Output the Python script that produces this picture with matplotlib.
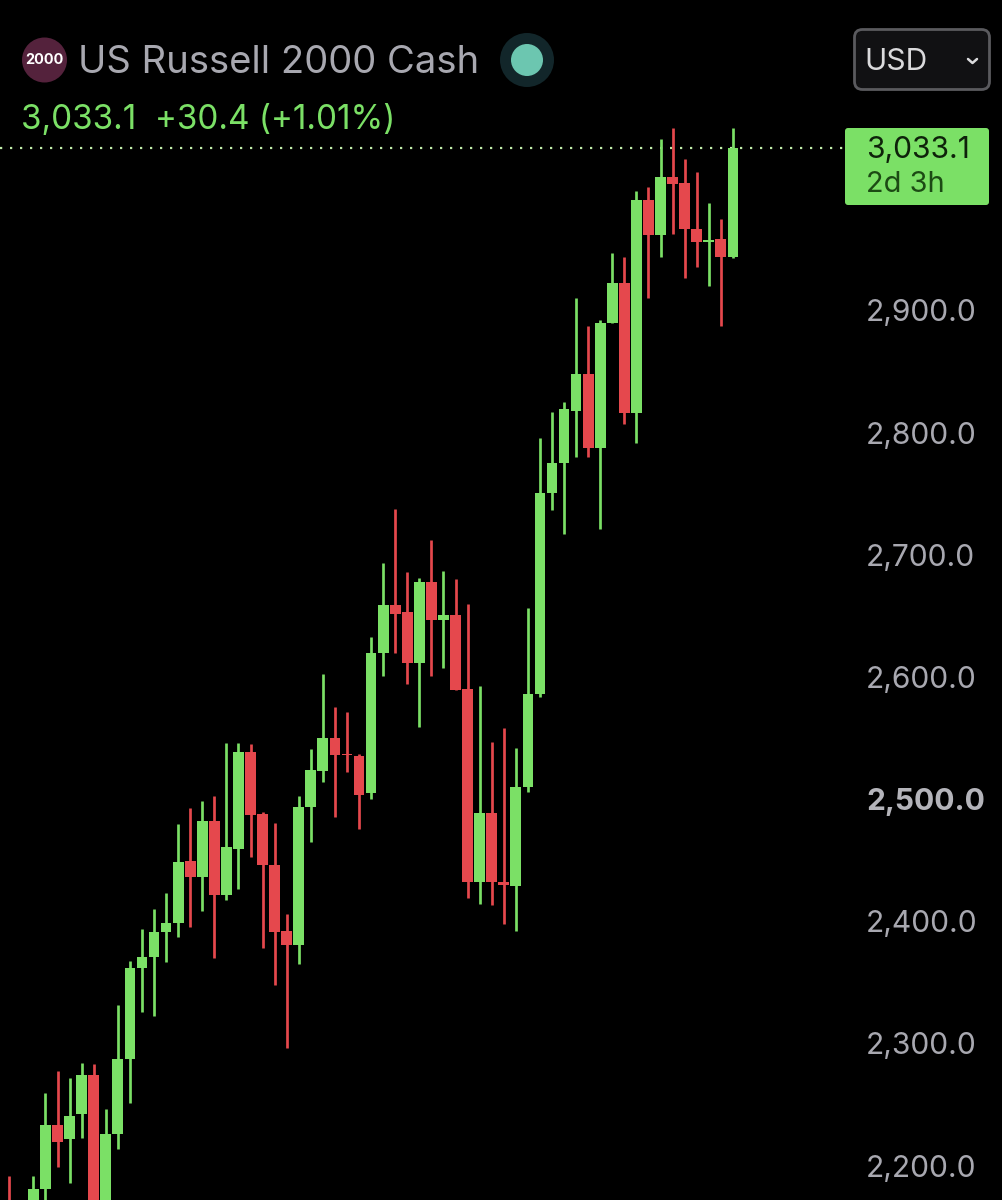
import matplotlib
matplotlib.use("Agg")
import matplotlib.pyplot as plt
from matplotlib.patches import Circle, FancyBboxPatch

FONT = ["Inter", "Roboto", "DejaVu Sans"]
plt.rcParams["font.family"] = FONT

title = "US Russell 2000 Cash"
quote_line = "3,033.1  +30.4 (+1.01%)"
last_price = 3033.1
countdown = "2d 3h"
price_ticks = [2200, 2300, 2400, 2500, 2600, 2700, 2800, 2900]

opens = [2167.3, 2150, 2159, 2180.4, 2232.8, 2221.3, 2241.8, 2274.5, 2155, 2226.2, 2286.8,
         2362.1, 2370.3, 2390.8, 2398.9, 2448.9, 2435.8, 2481.7, 2421.1, 2459.5, 2538.2,
         2487.4, 2446.4, 2391.6, 2380.9, 2493.9, 2522.6, 2550.4, 2537.3, 2534.9, 2504.6,
         2619.2, 2658.5, 2652.8, 2611.8, 2678.1, 2646.2, 2651.1, 2590.5, 2431.7, 2488.2,
         2431.7, 2428.5, 2509.5, 2586.4, 2750.2, 2774.8, 2818.1, 2847.6, 2787.8, 2889.4,
         2922.1, 2815.7, 2990.1, 2961.4, 3008.9, 3004.0, 2967.1, 2955.7, 2958.9, 2944.2]
highs = [2191.8, 2160, 2191.0, 2259.0, 2277.0, 2272.0, 2284.3, 2282.7, 2245.9, 2331.0, 2367.8,
         2394.0, 2410.4, 2422.7, 2480.0, 2492.3, 2498.8, 2502.9, 2546.3, 2545.5, 2544.7,
         2489.8, 2480.8, 2406.3, 2502.9, 2540.6, 2602.8, 2575.0, 2570.9, 2537.3, 2632.3,
         2692.9, 2737.1, 2686.3, 2681.4, 2711.7, 2687.1, 2679.8, 2660.1, 2592.2, 2547.1,
         2557.8, 2542.2, 2656.8, 2796.0, 2816.5, 2824.7, 2910.6, 2887.7, 2892.6, 2946.7,
         2944.2, 2998.2, 3001.5, 3040.0, 3049.0, 3024.4, 3013.0, 2987.6, 2975.3, 3049.8]
lows = [2138.6, 2135, 2146.8, 2167.3, 2198.4, 2185.3, 2222.9, 2138.6, 2142, 2213.9, 2250.8,
        2325.3, 2322.8, 2367.0, 2386.7, 2394.9, 2408.0, 2369.5, 2417.0, 2426.0, 2452.2,
        2377.7, 2347.4, 2295.8, 2364.6, 2464.5, 2513.6, 2485.7, 2521.8, 2475.1, 2499.7,
        2600.4, 2619.2, 2594.6, 2558.6, 2600.4, 2606.9, 2589.7, 2418.6, 2414.5, 2412.9,
        2398.1, 2391.6, 2505.4, 2583.2, 2736.3, 2717.4, 2779.7, 2779.7, 2720.7, 2889.4,
        2806.7, 2791.9, 2910.6, 2943.4, 2963.0, 2927.0, 2936.0, 2919.7, 2886.9, 2942.6]
closes = [2150.9, 2155, 2180.4, 2232.8, 2219.6, 2240.9, 2273.7, 2150.9, 2226.2, 2287.6, 2362.1,
          2371.1, 2390.8, 2398.9, 2448.1, 2435.8, 2481.7, 2421.1, 2460.4, 2538.2, 2486.6,
          2446.4, 2390.8, 2380.9, 2493.9, 2523.4, 2550.4, 2535.7, 2535.7, 2503.7, 2619.2,
          2658.5, 2651.9, 2611.8, 2678.1, 2646.2, 2651.1, 2589.7, 2431.7, 2488.2, 2431.7,
          2429.3, 2509.5, 2586.4, 2750.2, 2774.8, 2819.0, 2848.4, 2787.8, 2889.4, 2922.1,
          2815.7, 2990.1, 2961.4, 3008.9, 3003.2, 2967.1, 2955.7, 2958.1, 2944.2, 3033.1]

GREEN = "#7BE066"
RED = "#E5484D"
GREY = "#A8A8B0"
W, H = 1002, 1200
PX = 72 / 100  # points per pixel

fig = plt.figure(figsize=(W / 100, H / 100), dpi=100, facecolor="black")
ax = fig.add_axes([0, 0, 1, 1], facecolor="black")

# axis scales: 12.06 px per candle, 1.2214 px per index point
ax.set_xlim(-9.3 / 12.06, -9.3 / 12.06 + W / 12.06)
ax.set_ylim(3154.2 - H * 0.8187, 3154.2)

for i, (o, h, l, c) in enumerate(zip(opens, highs, lows, closes)):
    col = GREEN if c >= o else RED
    ax.vlines(i, l, h, color=col, lw=2.7 * PX, zorder=2)
    ax.bar(i, abs(c - o), bottom=min(o, c), width=0.89, color=col, linewidth=0, zorder=3)

for s in ax.spines.values():
    s.set_visible(False)
ax.set_xticks([])
ax.yaxis.tick_right()
ax.set_yticks(price_ticks)
ax.set_yticklabels([f"{t:,.1f}" for t in price_ticks])
ax.tick_params(axis="y", length=0, pad=-(W - 866) * PX, labelsize=30 * PX, labelcolor=GREY)
for t, lab in zip(price_ticks, ax.get_yticklabels()):
    lab.set_fontfamily(FONT)
    if t == 2500:
        lab.set_fontweight("bold")
        lab.set_color("#B4B4BA")

# last price dotted line
ax.plot([-0.77, 69.1], [last_price, last_price], color="#BFEBA8", lw=1.6,
        linestyle=(0, (1, 3.5)), zorder=1)

# overlay in pixel space for the header furniture
ov = fig.add_axes([0, 0, 1, 1], facecolor="none")
ov.set_xlim(0, W)
ov.set_ylim(H, 0)
ov.axis("off")

ov.add_patch(Circle((44.5, 60), 22.5, color="#54223C", lw=0))
ov.text(44.5, 60.5, "2000", color="white", fontsize=14.5 * PX, fontweight="bold", ha="center", va="center")
ov.text(78, 63, title, color=GREY, fontsize=38.2 * PX, ha="left", va="center")
ov.add_patch(Circle((527, 60), 27, color="#12262A", lw=0))
ov.add_patch(Circle((527, 60), 16, color="#6CC6B0", lw=0))
ov.text(21, 120, quote_line, color=GREEN, fontsize=33.3 * PX, ha="left", va="center")

ov.add_patch(FancyBboxPatch((854.5, 29.5), 135, 60, boxstyle="round,pad=0,rounding_size=8",
                            fc="#111113", ec="#5A5A5E", lw=2.0, mutation_aspect=1))
ov.text(864, 62, "USD", color="#DADADC", fontsize=30 * PX, ha="left", va="center")
ov.plot([968, 972.5, 977], [59, 63, 59], color="#DADADC", lw=1.8, solid_capstyle="round")

ov.add_patch(FancyBboxPatch((848, 131), 138, 71, boxstyle="round,pad=3,rounding_size=3",
                            fc=GREEN, ec="none", lw=0))
ov.text(866, 150, f"{last_price:,.1f}", color="#0E220A", fontsize=30 * PX, ha="left", va="center")
ov.text(866, 185, countdown, color="#1C4A14", fontsize=29 * PX, ha="left", va="center")

fig.savefig("out.png", dpi=100, facecolor="black")
